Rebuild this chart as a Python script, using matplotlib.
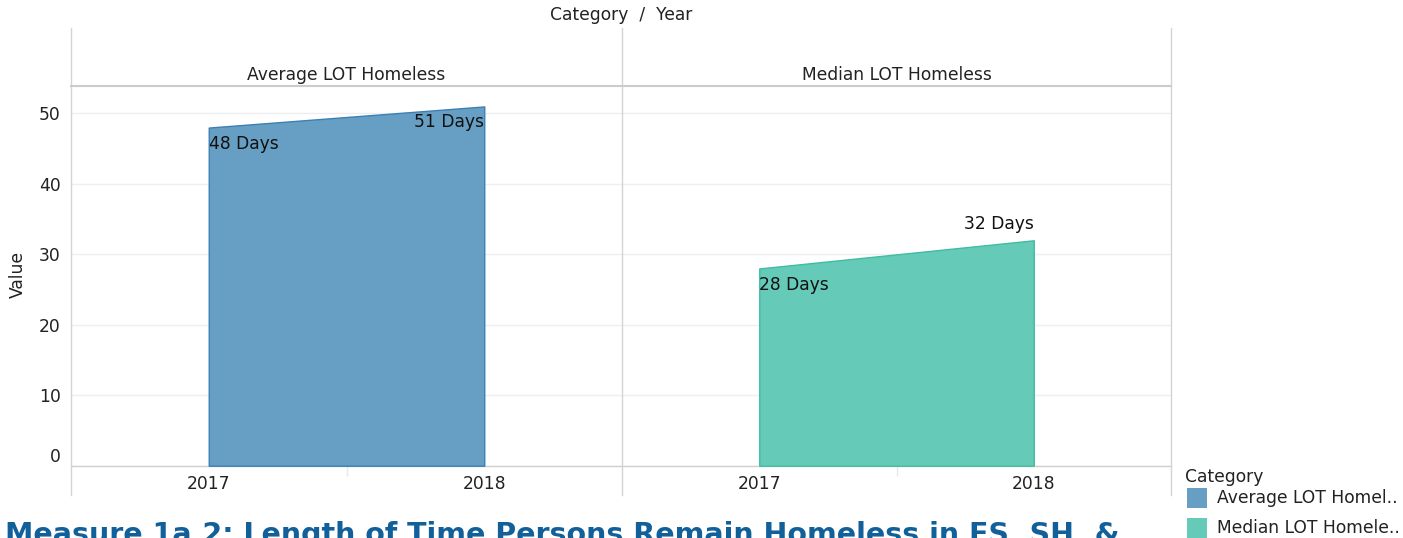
import matplotlib
matplotlib.use("Agg")
import matplotlib.pyplot as plt
from matplotlib.patches import Rectangle
from matplotlib.lines import Line2D

# ---- data ----
categories = ["Average LOT Homeless", "Median LOT Homeless"]
legend_labels = ["Average LOT Homel..", "Median LOT Homele.."]
years = ["2017", "2018"]
avg_values = [48, 51]
med_values = [28, 32]
avg_labels = ["48 Days", "51 Days"]
med_labels = ["28 Days", "32 Days"]
y_ticks = [0, 10, 20, 30, 40, 50]
title_text = "Measure 1a.2: Length of Time Persons Remain Homeless in ES, SH, &"

# ---- styles ----
W, H = 1403, 538
FS = 12.3
fills = ["#669fc3", "#66cab9"]
edges = ["#3a80b5", "#3fbca1"]
label_offsets = [[(-16, 'left'), (-16, 'right')], [(-17, 'left'), (16, 'right')]]

plt.rcParams['font.family'] = ['DejaVu Sans']
fig = plt.figure(figsize=(W / 100, H / 100), dpi=100)

def fx(px):
    return px / W

def fy(py):
    return 1 - py / H

left_px, mid_px, right_px = 71, 622, 1171
top_px, bot_px = 86, 465.7
panel_edges = [(left_px, mid_px), (mid_px, right_px)]
series = [avg_values, med_values]
texts = [avg_labels, med_labels]

axes = []
for i, (l, r) in enumerate(panel_edges):
    ax = fig.add_axes([fx(l), fy(bot_px), fx(r) - fx(l), fy(top_px) - fy(bot_px)])
    axes.append(ax)
    xs = list(range(len(years)))
    ax.fill_between(xs, 0, series[i], facecolor=fills[i], edgecolor=edges[i],
                    linewidth=1.0, zorder=3)
    ax.set_xlim(-0.5, len(years) - 0.5)
    ax.set_ylim(0, 53.9)
    ax.set_yticks(y_ticks)
    ax.grid(axis='y', color='#efefef', linewidth=1.0, zorder=0)
    ax.set_axisbelow(True)
    for s in ['top', 'right', 'left']:
        ax.spines[s].set_visible(False)
    ax.spines['bottom'].set_color('#cfcfcf')
    ax.spines['bottom'].set_linewidth(1.0)
    ax.set_xticks(xs)
    ax.set_xticklabels(years, fontsize=FS, color='#222222')
    ax.tick_params(axis='x', length=0, pad=6.4)
    ax.set_xticks([0.5], minor=True)
    ax.tick_params(axis='x', which='minor', length=7, color='#e8e8e8', width=1)
    if i == 0:
        ax.set_yticklabels([str(v) for v in y_ticks], fontsize=FS, color='#222222')
        ax.tick_params(axis='y', length=0, pad=7.5)
        for lab in ax.get_yticklabels():
            if lab.get_text() == '0':
                lab.set_va('bottom')
    else:
        ax.tick_params(axis='y', length=0, labelleft=False)
    for j, (v, t) in enumerate(zip(series[i], texts[i])):
        dy, ha = label_offsets[i][j]
        ax.annotate(t, xy=(j, v), xytext=(0, dy * 0.72), textcoords='offset points',
                    ha=ha, va='center', fontsize=FS, color='#111111', zorder=5)
    # panel header
    fig.text(fx((l + r) / 2), fy(75), categories[i], ha='center', va='center',
             fontsize=FS, color='#222222')

# frame lines
for xp in [left_px, mid_px, right_px]:
    fig.add_artist(Line2D([fx(xp), fx(xp)], [fy(28), fy(495)], color='#d4d4d4', lw=1.0))
fig.add_artist(Line2D([fx(left_px), fx(right_px)], [fy(86), fy(86)], color='#cccccc', lw=1.5))

fig.text(fx(621), fy(15), "Category  /  Year", ha='center', va='center', fontsize=FS, color='#222222')
fig.text(fx(18), fy(275), "Value", ha='center', va='center', rotation=90, fontsize=FS, color='#222222')

# legend
fig.text(fx(1185), fy(477), "Category", ha='left', va='center', fontsize=FS, color='#222222')
for k, lab in enumerate(legend_labels):
    cy = 498 + 30 * k
    fig.add_artist(Rectangle((fx(1187), fy(cy + 10)), fx(20), 20 / H, facecolor=fills[k],
                             edgecolor='none', transform=fig.transFigure))
    fig.text(fx(1217), fy(cy), lab, ha='left', va='center', fontsize=FS, color='#222222')

fig.text(fx(5), fy(521), title_text, ha='left', va='top', fontsize=20.5, fontweight='bold',
         color='#12609a')

fig.savefig("out.png", dpi=100)
